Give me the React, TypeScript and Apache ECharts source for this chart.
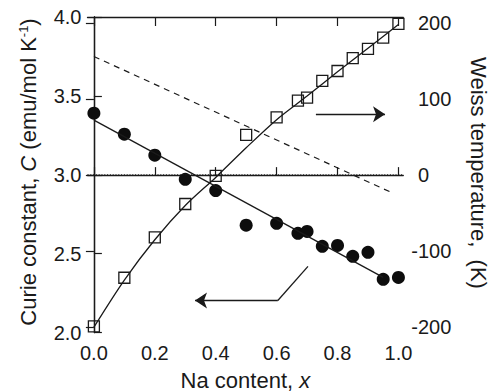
import React, { useEffect, useRef } from "react";
import * as echarts from "echarts";

// ---- data ----
const naX = [0, 0.1, 0.2, 0.3, 0.4, 0.5, 0.6, 0.67, 0.7, 0.75, 0.8, 0.85, 0.9, 0.95, 1.0];
const curieC = [3.39, 3.257, 3.124, 2.971, 2.9, 2.68, 2.692, 2.629, 2.641, 2.546, 2.552, 2.483, 2.508, 2.337, 2.349];
const weissT = [-199, -135, -82, -38, -1, 53, 76, 98, 102, 124, 137, 154, 166, 181, 199];

const weissCurveX = [0, 0.1, 0.2, 0.3, 0.4, 0.5, 0.6, 0.7, 0.8, 0.9, 1.0];
const weissCurveT = [-200, -138, -85, -40, -3, 36, 73, 104, 136, 167, 198];

const curieFitX = [0, 0.95];
const curieFitC = [3.346, 2.349];

const dashedX = [0, 0.98];
const dashedC = [3.75, 2.885];

const refLevelC = 3.0;

const xTicks = [0, 0.2, 0.4, 0.6, 0.8, 1.0];
const thetaTicks = [-200, -100, 0, 100, 200];

// arrow annotations (data coords on x / left axis)
const arrowRight = [[0.729, 3.384], [0.956, 3.384]];
const arrowLeftA = [[0.703, 2.419], [0.604, 2.203]];
const arrowLeftB = [[0.604, 2.203], [0.332, 2.203]];

const FONT = "'Liberation Sans', Arial, Helvetica, sans-serif";
const INK = "#1a1a1a";

export default function App() {
  const ref = useRef<HTMLDivElement>(null);
  useEffect(() => {
    document.body.style.margin = "0";
    const chart = echarts.init(ref.current!, null, { renderer: "svg" });
    const xMin = -0.021;
    const xMax = 1.016;
    const axisLine = { show: true, lineStyle: { color: INK, width: 1.3 } };
    const labelStyle = { fontSize: 20, color: INK, fontFamily: FONT };
    const titleRich = {
      n: { fontSize: 22, fontFamily: FONT, fill: INK, lineHeight: 22 },
      i: { fontSize: 22, fontFamily: FONT, fill: INK, fontStyle: "italic", lineHeight: 22 },
      s: { fontSize: 13, fontFamily: FONT, fill: INK, verticalAlign: "top", lineHeight: 22 },
    };
    chart.setOption({
      animation: false,
      grid: { left: 87.5, right: 90.7, top: 17, bottom: 59.5, containLabel: false, outerBoundsMode: "none" },
      xAxis: [
        {
          type: "value", min: xMin, max: xMax, position: "bottom",
          axisLine,
          axisTick: { show: true, inside: true, length: 8, customValues: xTicks, lineStyle: { color: INK, width: 1.2 } },
          axisLabel: { ...labelStyle, margin: 10, customValues: xTicks, formatter: (v: number) => v.toFixed(1) },
          splitLine: { show: false },
        },
        {
          type: "value", min: xMin, max: xMax, position: "top",
          axisLine,
          axisTick: { show: true, inside: true, length: 9, customValues: xTicks, lineStyle: { color: INK, width: 1.2 } },
          axisLabel: { show: false },
          splitLine: { show: false },
        },
      ],
      yAxis: [
        {
          type: "value", min: 2, max: 4, interval: 0.5, position: "left",
          axisLine,
          axisTick: { show: true, inside: true, length: 8, lineStyle: { color: INK, width: 1.2 } },
          axisLabel: { ...labelStyle, margin: 6, formatter: (v: number) => v.toFixed(1) },
          splitLine: { show: false },
        },
        {
          type: "value", min: -207, max: 208, position: "right",
          axisLine,
          axisTick: { show: true, inside: true, length: 8, customValues: thetaTicks, lineStyle: { color: INK, width: 1.2 } },
          axisLabel: {
            ...labelStyle, margin: 8, customValues: thetaTicks,
            formatter: (v: number) => (v < 0 ? `${v}` : `{h|-}${v}`),
            rich: { h: { color: "rgba(0,0,0,0)", fontSize: 20, fontFamily: FONT } },
          },
          splitLine: { show: false },
        },
      ],
      series: [
        {
          name: "ref", type: "line", xAxisIndex: 0, yAxisIndex: 0, showSymbol: false, silent: true,
          data: [[xMin, refLevelC], [xMax, refLevelC]],
          lineStyle: { color: INK, width: 1, type: [1, 1.8] },
        },
        {
          name: "dashed", type: "line", yAxisIndex: 0, showSymbol: false,
          data: dashedX.map((x, i) => [x, dashedC[i]]),
          lineStyle: { color: INK, width: 1.2, type: [6, 5] },
        },
        {
          name: "weissCurve", type: "line", yAxisIndex: 1, showSymbol: false, smooth: 0.3,
          data: weissCurveX.map((x, i) => [x, weissCurveT[i]]),
          lineStyle: { color: INK, width: 1.3 },
        },
        {
          name: "curieFit", type: "line", yAxisIndex: 0, showSymbol: false,
          data: curieFitX.map((x, i) => [x, curieFitC[i]]),
          lineStyle: { color: INK, width: 1.3 },
        },
        {
          name: "weiss", type: "scatter", yAxisIndex: 1, symbol: "rect", symbolSize: 11,
          data: naX.map((x, i) => [x, weissT[i]]),
          itemStyle: { color: "rgba(0,0,0,0)", borderColor: INK, borderWidth: 1.3, opacity: 1 },
        },
        {
          name: "curie", type: "scatter", yAxisIndex: 0, symbol: "circle", symbolSize: 13,
          data: naX.map((x, i) => [x, curieC[i]]),
          itemStyle: { color: "#0d0d0d", opacity: 1 },
        },
        {
          name: "arrows", type: "lines", coordinateSystem: "cartesian2d", xAxisIndex: 0, yAxisIndex: 0,
          symbol: ["none", "arrow"], symbolSize: 12,
          lineStyle: { color: INK, width: 1.3, opacity: 1, curveness: 0 },
          itemStyle: { color: INK },
          data: [{ coords: arrowRight }, { coords: arrowLeftB }],
        },
        {
          name: "arrowTail", type: "lines", coordinateSystem: "cartesian2d", xAxisIndex: 0, yAxisIndex: 0,
          symbol: ["none", "none"],
          lineStyle: { color: INK, width: 1.3, opacity: 1, curveness: 0 },
          data: [{ coords: arrowLeftA }],
        },
      ],
      graphic: [
        {
          type: "text", x: 28, y: 172, rotation: Math.PI / 2,
          style: {
            text: "{n|Curie constant, }{i|C}{n| (emu/mol K}{s|-1}{n|)}",
            rich: titleRich, align: "center", verticalAlign: "middle", fill: INK,
          },
        },
        {
          type: "text", x: 478, y: 173, rotation: -Math.PI / 2,
          style: {
            text: "{n|Weiss temperature,  (K)}",
            rich: titleRich, align: "center", verticalAlign: "middle", fill: INK,
          },
        },
        {
          type: "text", x: 245.4, y: 380,
          style: {
            text: "{n|Na content, }{i|x}",
            rich: titleRich, align: "center", verticalAlign: "middle", fill: INK,
          },
        },
      ],
    });
    return () => chart.dispose();
  }, []);
  return <div ref={ref} style={{ width: 494, height: 392 }} />;
}
